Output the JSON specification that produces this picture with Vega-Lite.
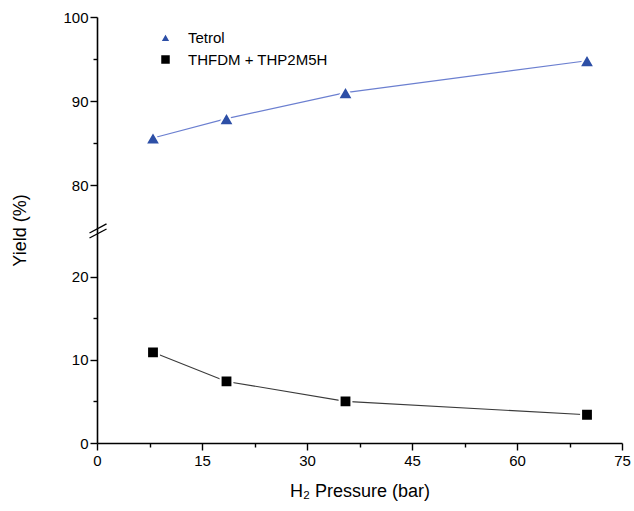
{
  "$schema": "https://vega.github.io/schema/vega-lite/v6.json",
  "width": 525,
  "height": 426,
  "autosize": {"type": "none"},
  "padding": {"left": 97, "top": 17, "right": 12, "bottom": 68},
  "background": "white",
  "config": {
    "view": {"stroke": null},
    "axis": {
      "domainColor": "#000000",
      "domainWidth": 1.6,
      "tickColor": "#000000",
      "tickWidth": 1.4,
      "labelFont": "Liberation Sans",
      "labelFontSize": 15,
      "labelColor": "#000000",
      "titleFont": "Liberation Sans",
      "titleFontSize": 18,
      "titleFontWeight": "normal",
      "titleColor": "#000000",
      "grid": false
    },
    "legend": {
      "labelFont": "Liberation Sans",
      "labelFontSize": 15,
      "labelColor": "#000000"
    }
  },
  "datasets": {
    "pts": [
      {"series": "Tetrol", "pressure": 8, "yield": 85.6},
      {"series": "Tetrol", "pressure": 18.5, "yield": 87.9},
      {"series": "Tetrol", "pressure": 35.5, "yield": 91.0},
      {"series": "Tetrol", "pressure": 70, "yield": 94.8},
      {"series": "THFDM + THP2M5H", "pressure": 8, "yield": 10.9},
      {"series": "THFDM + THP2M5H", "pressure": 18.5, "yield": 7.4},
      {"series": "THFDM + THP2M5H", "pressure": 35.5, "yield": 5.0},
      {"series": "THFDM + THP2M5H", "pressure": 70, "yield": 3.4}
    ],
    "brk": [
      {"x1": -1.07, "y1": 37.5, "x2": 1.36, "y2": 75.36},
      {"x1": -1.07, "y1": 24.64, "x2": 1.36, "y2": 62.5}
    ]
  },
  "layer": [
    {
      "data": {"name": "pts"},
      "mark": {"type": "line", "strokeWidth": 1.1},
      "encoding": {
        "x": {
          "field": "pressure", "type": "quantitative",
          "scale": {"domain": [0, 75], "nice": false},
          "axis": {
            "title": "H₂ Pressure (bar)",
            "values": [0, 7.5, 15, 22.5, 30, 37.5, 45, 52.5, 60, 67.5, 75],
            "labelExpr": "datum.value % 15 === 0 ? datum.label : ''",
            "tickSize": {"condition": {"test": "datum.value % 15 !== 0", "value": 4}, "value": 7},
            "labelPadding": 3,
            "titlePadding": 14,
            "labelFlush": false
          }
        },
        "y": {
          "field": "yield", "type": "quantitative",
          "scale": {"domain": [0, 25, 75, 100], "range": [426, 218, 210, 0], "nice": false, "zero": false},
          "axis": {
            "title": "Yield (%)",
            "values": [0, 5, 10, 15, 20, 80, 85, 90, 95, 100],
            "labelExpr": "datum.value % 10 === 0 ? datum.label : ''",
            "tickSize": {"condition": {"test": "datum.value % 10 !== 0", "value": 4}, "value": 7},
            "labelPadding": 2,
            "titlePadding": 33,
            "labelFlush": false
          }
        },
        "detail": {"field": "series", "type": "nominal"},
        "stroke": {"condition": {"test": "datum.series === 'Tetrol'", "value": "#6b7fd0"}, "value": "#3a3a3a"}
      }
    },
    {
      "data": {"name": "pts"},
      "mark": {"type": "point", "filled": true, "opacity": 1, "stroke": "white", "strokeWidth": 2, "strokeOpacity": 1},
      "encoding": {
        "x": {"field": "pressure", "type": "quantitative"},
        "y": {"field": "yield", "type": "quantitative"},
        "shape": {
          "field": "series", "type": "nominal",
          "scale": {"domain": ["Tetrol", "THFDM + THP2M5H"], "range": ["triangle-up", "square"]},
          "legend": {
            "title": null,
            "orient": "none",
            "legendX": 61,
            "legendY": 13,
            "padding": 0,
            "symbolSize": 100,
            "labelOffset": 15,
            "rowPadding": 5,
            "encode": {
              "symbols": {
                "shape": {"condition": {"test": "datum.value === 'Tetrol'", "value": "M-4,0H-1.3M1.3,0H4M0,-1.05L1.2,0.95H-1.2Z"}, "value": "M-4,0H-1.1M1.1,0H4M-0.85,-0.85H0.85V0.85H-0.85Z"},
                "stroke": {"condition": {"test": "datum.value === 'Tetrol'", "value": "#6b7fd0"}, "value": "#3a3a3a"},
                "strokeWidth": {"value": 1.1},
                "size": {"value": 100}
              }
            }
          }
        },
        "color": {
          "field": "series", "type": "nominal",
          "scale": {"domain": ["Tetrol", "THFDM + THP2M5H"], "range": ["#2d4fa6", "#000000"]},
          "legend": {
            "title": null,
            "orient": "none",
            "legendX": 61,
            "legendY": 13,
            "padding": 0,
            "symbolSize": 100,
            "labelOffset": 15,
            "rowPadding": 5,
            "encode": {
              "symbols": {
                "shape": {"condition": {"test": "datum.value === 'Tetrol'", "value": "M-4,0H-1.3M1.3,0H4M0,-1.05L1.2,0.95H-1.2Z"}, "value": "M-4,0H-1.1M1.1,0H4M-0.85,-0.85H0.85V0.85H-0.85Z"},
                "stroke": {"condition": {"test": "datum.value === 'Tetrol'", "value": "#6b7fd0"}, "value": "#3a3a3a"},
                "strokeWidth": {"value": 1.1},
                "size": {"value": 100}
              }
            }
          }
        },
        "size": {"condition": {"test": "datum.series === 'Tetrol'", "value": 230}, "value": 140}
      }
    },
    {
      "data": {"name": "brk"},
      "mark": {"type": "rule", "color": "#000000", "strokeWidth": 1.4, "clip": false},
      "encoding": {
        "x": {"field": "x1", "type": "quantitative"},
        "y": {"field": "y1", "type": "quantitative"},
        "x2": {"field": "x2"},
        "y2": {"field": "y2"}
      }
    }
  ]
}
